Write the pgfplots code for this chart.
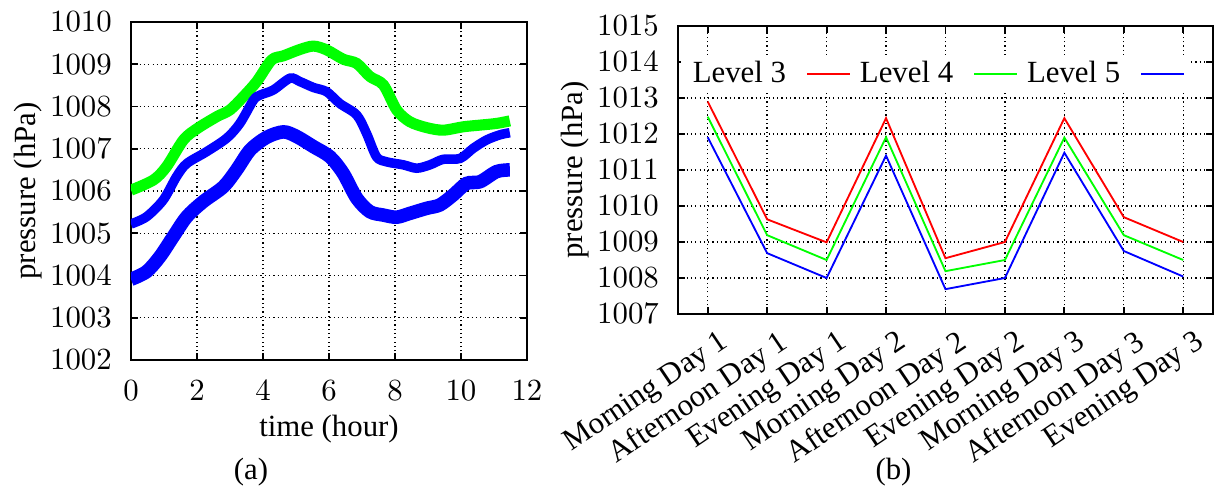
\documentclass[border=0pt]{standalone}
\usepackage{pgfplots}
\pgfplotsset{compat=1.18}
\usepackage[no-math]{fontspec}
\setmainfont{Liberation Serif}
\definecolor{pgreen}{RGB}{0,255,0}
\definecolor{pblue}{RGB}{0,0,255}
\definecolor{pred}{RGB}{255,0,0}
\begin{document}
\begin{tikzpicture}
\useasboundingbox (0,0) rectangle (394.5pt,-158.45pt);
\pgfplotsset{
  every axis/.append style={
    scale only axis,
    axis line style={line width=0.6pt},
    tick align=inside,
    major tick length=2.2pt,
    tick style={line width=0.6pt, black},
    grid=major,
    grid style={densely dotted, line width=0.45pt, black},
    y tick label style={/pgf/number format/1000 sep={}, xshift=-2.7pt},
  }
}
% ---------- (a) ----------
\begin{axis}[
  at={(42.53pt,-116.89pt)}, anchor=south west,
  width=128.58pt, height=109.75pt,
  xmin=0, xmax=12, ymin=1002, ymax=1010,
  xtick={0,2,...,12}, ytick={1002,1003,...,1010},
  x tick label style={yshift=-3.2pt},
  xlabel={time (hour)}, ylabel={pressure (hPa)},
  every axis x label/.style={at={(axis description cs:0.5,-0.204)}, anchor=center},
  every axis y label/.style={at={(axis description cs:-0.261,0.5)}, rotate=90, anchor=center},
]
\addplot[pgreen, line width=3.6pt, smooth, tension=0.5] coordinates {
(0,1006.02) (0.68,1006.26) (1.08,1006.58) (1.59,1007.21) (2.01,1007.48) (2.6,1007.76) (3.0,1007.92) (3.4,1008.23) (3.81,1008.59) (4.26,1009.10) (4.62,1009.20) (5.12,1009.35) (5.53,1009.43) (5.93,1009.34) (6.43,1009.12) (6.84,1009.02) (7.24,1008.71) (7.65,1008.51) (8.05,1007.92) (8.45,1007.64) (8.96,1007.50) (9.46,1007.44) (10.07,1007.52) (10.58,1007.56) (11.08,1007.60) (11.48,1007.66)
};
\addplot[pblue, line width=3.1pt, smooth, tension=0.5] coordinates {
(0,1005.22) (0.47,1005.39) (0.98,1005.79) (1.38,1006.34) (1.69,1006.65) (2.29,1006.93) (2.9,1007.25) (3.3,1007.60) (3.71,1008.15) (3.91,1008.27) (4.31,1008.39) (4.82,1008.67) (5.12,1008.59) (5.53,1008.45) (5.93,1008.35) (6.33,1008.07) (6.84,1007.80) (7.14,1007.36) (7.44,1006.81) (7.75,1006.69) (8.25,1006.62) (8.66,1006.54) (9.06,1006.62) (9.46,1006.75) (9.97,1006.77) (10.37,1007.01) (10.78,1007.21) (11.18,1007.33) (11.48,1007.38)
};
\addplot[pblue, line width=4.4pt, smooth, tension=0.5] coordinates {
(0,1003.91) (0.47,1004.09) (0.88,1004.45) (1.28,1004.92) (1.69,1005.39) (2.19,1005.75) (2.8,1006.10) (3.2,1006.50) (3.61,1006.97) (4.11,1007.27) (4.62,1007.40) (5.02,1007.29) (5.53,1007.05) (6.03,1006.81) (6.43,1006.42) (6.84,1005.83) (7.24,1005.51) (7.65,1005.43) (8.05,1005.38) (8.45,1005.47) (8.96,1005.59) (9.36,1005.67) (9.77,1005.91) (10.17,1006.18) (10.58,1006.22) (11.08,1006.46) (11.48,1006.50)
};
\end{axis}
\node at (81.5pt,-153.25pt) {(a)};
% ---------- (b) ----------
\begin{axis}[
  at={(220.14pt,-101.95pt)}, anchor=south west,
  width=173.7pt, height=93.51pt,
  xmin=-0.5, xmax=8.5, ymin=1007, ymax=1015,
  xtick={0,1,...,8}, ytick={1007,1008,...,1015},
  xticklabels={Morning Day 1, Afternoon Day 1, Evening Day 1, Morning Day 2, Afternoon Day 2, Evening Day 2, Morning Day 3, Afternoon Day 3, Evening Day 3},
  x tick label style={rotate=34, anchor=north east, xshift=3.6pt, yshift=-2.3pt},
  ylabel={pressure (hPa)},
  every axis y label/.style={at={(axis description cs:-0.192,0.5)}, rotate=90, anchor=center},
  legend columns=3,
  legend plot pos=right,
  legend image code/.code={\draw[#1] (0pt,0pt) -- (13.9pt,0pt);},
  legend style={at={(axis description cs:0.482,0.833)}, anchor=center, draw=none, fill=white,
    inner xsep=2pt, inner ysep=0pt,
    /tikz/every odd column/.append style={column sep=4.5pt},
    /tikz/every even column/.append style={column sep=1pt}},
]
\addplot[pred, line width=0.6pt] coordinates {
(0,1012.90) (1,1009.63) (2,1008.99) (3,1012.44) (4,1008.55) (5,1009.00) (6,1012.44) (7,1009.69) (8,1009.00)
};
\addlegendentry{Level 3}
\addplot[pgreen, line width=0.6pt] coordinates {
(0,1012.48) (1,1009.19) (2,1008.50) (3,1011.91) (4,1008.19) (5,1008.50) (6,1011.90) (7,1009.19) (8,1008.50)
};
\addlegendentry{Level 4}
\addplot[pblue, line width=0.6pt] coordinates {
(0,1011.91) (1,1008.69) (2,1008.00) (3,1011.40) (4,1007.69) (5,1008.00) (6,1011.48) (7,1008.75) (8,1008.04)
};
\addlegendentry{Level 5}
\end{axis}
\node at (290.1pt,-153.25pt) {(b)};
\end{tikzpicture}
\end{document}
